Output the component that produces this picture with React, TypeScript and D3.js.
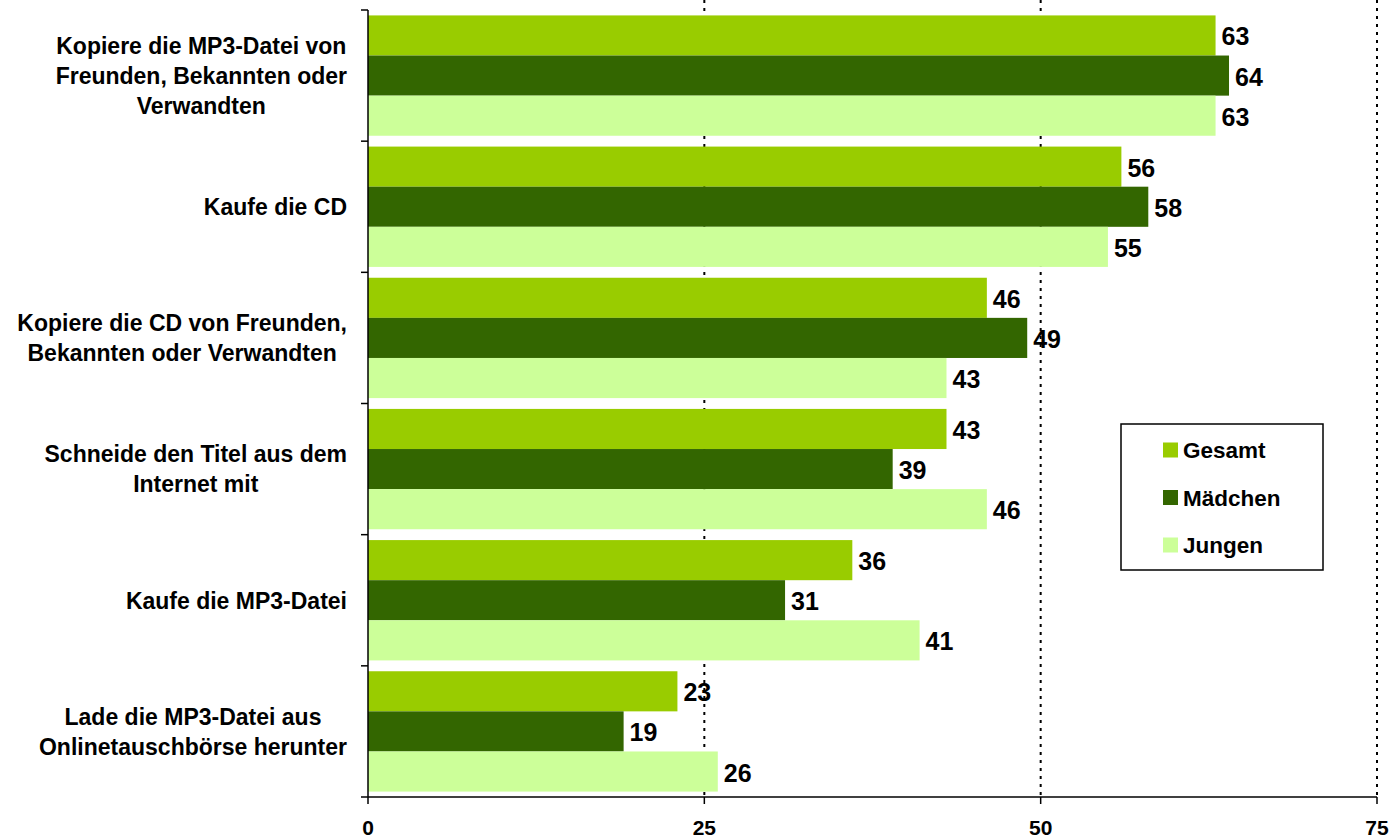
import React, { useMemo } from "react";
import * as d3 from "d3";

const categories: string[][] = [
  ["Kopiere die MP3-Datei von", "Freunden, Bekannten oder", "Verwandten"],
  ["Kaufe die CD"],
  ["Kopiere die CD von Freunden,", "Bekannten oder Verwandten"],
  ["Schneide den Titel aus dem", "Internet mit"],
  ["Kaufe die MP3-Datei"],
  ["Lade die MP3-Datei aus", "Onlinetauschbörse herunter"],
];
const seriesNames = ["Gesamt", "Mädchen", "Jungen"];
const seriesColors = ["#99CC00", "#336600", "#CCFF99"];
const gesamt = [63, 56, 46, 43, 36, 23];
const maedchen = [64, 58, 49, 39, 31, 19];
const jungen = [63, 55, 43, 46, 41, 26];
const xTicks = [0, 25, 50, 75];

const W = 1397;
const H = 839;
const FONT = "'Liberation Sans', Arial, sans-serif";
const CAT_FS = 23;

export default function App() {
  const left = 368;
  const right = 1377;
  const top = 10;
  const bottom = 797;
  const x = d3.scaleLinear().domain([0, 75]).range([left, right]);
  const idx = categories.map((_, i) => i);
  const y = d3.scaleBand<number>().domain(idx).range([top, bottom]).paddingInner(0).paddingOuter(0);
  const inner = d3.scaleBand<number>().domain([0, 1, 2]).range([0, y.bandwidth()]).paddingOuter(0.135).paddingInner(0);
  const series = [gesamt, maedchen, jungen];

  const widths = useMemo(() => {
    const c = document.createElement("canvas").getContext("2d")!;
    c.font = `bold ${CAT_FS}px ${FONT}`;
    return categories.map((lines) => Math.max(...lines.map((l) => c.measureText(l).width)));
  }, []);

  const labelRight = 347;
  const lineH = 30;

  return (
    <svg width={W} height={H} style={{ position: "absolute", left: 0, top: 0, background: "#fff" }} fontFamily={FONT}>
      {/* data labels */}
      {series.map((vals, s) =>
        vals.map((v, i) => (
          <text
            key={`l${s}-${i}`}
            x={x(v) + 6}
            y={(y(i) as number) + (inner(s) as number) + inner.bandwidth() / 2 + 1}
            dy="0.36em"
            fontSize={25}
            fontWeight="bold"
            fill="#000"
          >
            {v}
          </text>
        ))
      )}
      {/* gridlines */}
      {xTicks.slice(1).map((t) => (
        <line key={`g${t}`} x1={x(t)} x2={x(t)} y1={0} y2={bottom} stroke="#000" strokeWidth={2} strokeDasharray="3,5" />
      ))}
      {/* bars */}
      {series.map((vals, s) =>
        vals.map((v, i) => (
          <rect
            key={`b${s}-${i}`}
            x={x(0)}
            y={(y(i) as number) + (inner(s) as number)}
            width={x(v) - x(0)}
            height={inner.bandwidth()}
            fill={seriesColors[s]}
          />
        ))
      )}
      {/* axes */}
      <line x1={left} x2={left} y1={top} y2={bottom} stroke="#000" strokeWidth={1.5} />
      <line x1={left} x2={right} y1={bottom} y2={bottom} stroke="#000" strokeWidth={1.5} />
      {d3.range(categories.length + 1).map((k) => {
        const yy = top + k * y.bandwidth();
        return <line key={`yt${k}`} x1={left - 7} x2={left} y1={yy} y2={yy} stroke="#000" strokeWidth={1.5} />;
      })}
      {xTicks.map((t) => (
        <g key={`xt${t}`}>
          <line x1={x(t)} x2={x(t)} y1={bottom} y2={bottom + 7} stroke="#000" strokeWidth={1.5} />
          <text x={x(t)} y={835} textAnchor="middle" fontSize={21} fontWeight="bold">
            {t}
          </text>
        </g>
      ))}
      {/* category labels */}
      {categories.map((lines, i) => {
        const cy = (y(i) as number) + y.bandwidth() / 2;
        const cx = labelRight - widths[i] / 2;
        const y0 = cy - ((lines.length - 1) * lineH) / 2;
        return (
          <text key={`c${i}`} textAnchor="middle" fontSize={CAT_FS} fontWeight="bold">
            {lines.map((l, j) => (
              <tspan key={j} x={cx} y={y0 + j * lineH} dy="0.36em">
                {l}
              </tspan>
            ))}
          </text>
        );
      })}
      {/* legend */}
      <rect x={1121} y={424} width={202} height={146} fill="#fff" stroke="#000" strokeWidth={1.5} />
      {seriesNames.map((n, s) => (
        <g key={`lg${s}`}>
          <rect x={1163} y={450 + s * 47.5 - 7.5} width={15} height={15} fill={seriesColors[s]} />
          <text x={1183} y={450 + s * 47.5} dy="0.36em" fontSize={22.5} fontWeight="bold">
            {n}
          </text>
        </g>
      ))}
    </svg>
  );
}
